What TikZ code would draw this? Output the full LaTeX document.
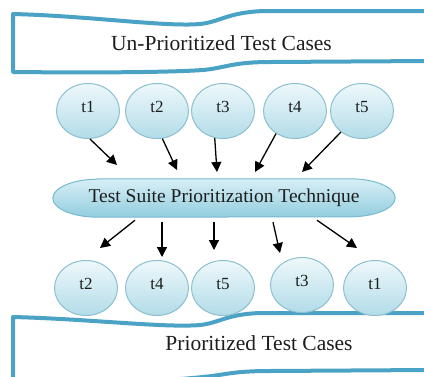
\documentclass[tikz,border=0pt]{standalone}
\usepackage{fontspec}
\setmainfont{Liberation Serif}
\usetikzlibrary{arrows.meta,shapes.geometric,backgrounds}
\definecolor{banner}{RGB}{74,163,196}
\definecolor{ctop}{RGB}{238,248,251}
\definecolor{cbot}{RGB}{178,220,232}
\definecolor{cline}{RGB}{140,192,208}
\definecolor{etop}{RGB}{216,239,246}
\definecolor{ebot}{RGB}{146,205,222}
\definecolor{eline}{RGB}{120,186,206}
\definecolor{txt}{RGB}{30,30,30}
\begin{document}
\begin{tikzpicture}[x=1pt,y=-1pt,
  bannerline/.style={draw=banner,line width=4pt,line join=round,fill=white},
  tc/.style={ellipse,draw=cline,line width=1pt,top color=ctop,bottom color=cbot,
    minimum width=63pt,minimum height=55pt,inner sep=0pt,text=txt,
    font=\fontsize{17}{17}\selectfont,text height=12pt,text depth=9pt},
  tech/.style={rectangle,minimum width=342pt,minimum height=38pt,
    inner sep=0pt,text=txt,font=\fontsize{19.5}{20}\selectfont},
  techshape/.style={draw=eline,line width=1pt,top color=etop,bottom color=ebot},
  btext/.style={text=txt,font=\fontsize{21.5}{22}\selectfont,inner sep=0pt},
  arr/.style={-{Triangle[length=10pt,width=10pt]},line width=1.3pt,black}]
\useasboundingbox (0,0) rectangle (424,376);
\clip (0,0) rectangle (424,376);
% top banner
\draw[bannerline] (430,11) -- (265,11) .. controls (228,12) and (220,22) .. (200,24)
  .. controls (165,27) and (90,16) .. (13,14) -- (13,72)
  .. controls (110,73) and (175,72) .. (203,70)
  .. controls (225,68) and (232,62) .. (270,62) -- (430,61);
\node[btext] (toptext) at (221.5,43) {Un-Prioritized Test Cases};
% bottom banner
\draw[bannerline] (430,313) -- (265,313) .. controls (228,313) and (220,323) .. (200,325)
  .. controls (165,328) and (90,319) .. (13,317) -- (13,384)
  .. controls (110,384) and (175,380) .. (203,377)
  .. controls (225,375) and (232,371) .. (270,371) -- (430,370);
\node[btext] (bottext) at (259,343) {Prioritized Test Cases};
% technique
\node[tech] (e) at (224,198) {Test Suite Prioritization Technique};
\begin{scope}[on background layer]
\path[techshape] ([xshift=45pt]e.north west) -- ([xshift=-45pt]e.north east)
  arc[start angle=90,end angle=-90,x radius=45pt,y radius=19pt]
  -- ([xshift=45pt]e.south west)
  arc[start angle=270,end angle=90,x radius=45pt,y radius=19pt] -- cycle;
\end{scope}
% top circles
\node[tc] (u1) at (88,111) {t1};
\node[tc] (u2) at (157,111) {t2};
\node[tc] (u3) at (223,111) {t3};
\node[tc] (u4) at (295,111) {t4};
\node[tc] (u5) at (362,111) {t5};
% bottom circles
\node[tc] (b2) at (86,288) {t2};
\node[tc] (b4) at (157,288) {t4};
\node[tc] (b5) at (223,288) {t5};
\node[tc] (b3) at (302,285) {t3};
\node[tc] (b1) at (375,288) {t1};
% arrow tips
\coordinate (ua1) at (117,165);
\coordinate (ua2) at (177,170);
\coordinate (ua3) at (217,172);
\coordinate (ua4) at (255,172);
\coordinate (ua5) at (302,172);
\coordinate (db2) at (100,248);
\coordinate (db4) at (162,257);
\coordinate (db5) at (214,250);
\coordinate (db3) at (280,253);
\coordinate (db1) at (357,248);
% arrows in
\draw[arr] (u1.-86) -- (ua1);
\draw[arr] (u2.-79) -- (ua2);
\draw[arr] (u3.-107) -- (ua3);
\draw[arr] (u4.-130) -- (ua4);
\draw[arr] (u5.-135) -- (ua5);
% arrows out
\draw[arr] ([xshift=-89pt,yshift=-3pt]e.south) -- (db2);
\draw[arr] ([xshift=-62pt,yshift=-5pt]e.south) -- (db4);
\draw[arr] ([xshift=-10pt,yshift=-5pt]e.south) -- (db5);
\draw[arr] ([xshift=49pt,yshift=-5pt]e.south) -- (db3);
\draw[arr] ([xshift=93pt,yshift=-3pt]e.south) -- (db1);
\end{tikzpicture}
\end{document}
